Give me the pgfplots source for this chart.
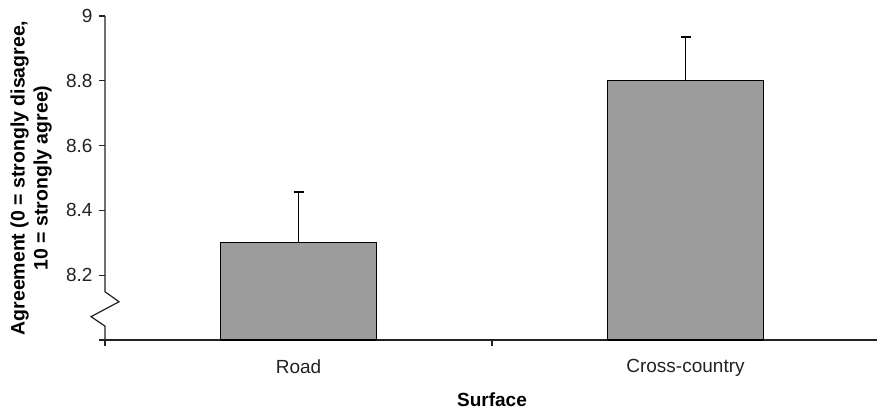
\documentclass[border=0pt]{standalone}
\usepackage{pgfplots}
\pgfplotsset{compat=1.18}
\usepackage{fontspec}
\setmainfont{Liberation Sans}
\definecolor{barfill}{HTML}{9C9C9C}
\definecolor{axcol}{HTML}{222222}
\begin{document}
\begin{tikzpicture}
\useasboundingbox (0,0) rectangle (877pt,410pt);
\begin{axis}[
  at={(105pt,70pt)}, anchor=south west,
  scale only axis, width=774pt, height=324pt,
  xmin=-0.5, xmax=1.5, ymin=8, ymax=9,
  axis lines=left,
  x axis line style={-, axcol, line width=1.2pt},
  y axis line style={draw=none},
  tick style={axcol, line width=1.2pt},
  tick align=outside, major tick length=6pt,
  xtick={-0.5,0.5,1.5}, xticklabels={},
  extra x ticks={0,1}, extra x tick labels={Road,Cross-country},
  extra x tick style={major tick length=0pt, xticklabel style={yshift=-16pt}},
  ytick={8,8.2,8.4,8.6,8.8,9},
  yticklabels={,8.2,8.4,8.6,8.8,9},
  yticklabel style={xshift=-3pt},
  /pgf/number format/assume math mode=true,
  tick label style={font=\fontsize{19}{21}\selectfont, text=axcol},
  xlabel={Surface},
  ylabel={Agreement (0 = strongly disagree,\\10 = strongly agree)},
  every axis x label/.style={at={(axis description cs:0.5,-0.185)}, anchor=center, font=\fontsize{19}{21}\selectfont\bfseries},
  every axis y label/.style={at={(axis description cs:-0.0955,0.5)}, rotate=90, anchor=center, align=center, font=\fontsize{19.5}{23}\selectfont\bfseries},
  clip=false,
]
\addplot[ybar, bar width=156pt, bar shift=0pt, fill=barfill, draw=black, line width=1.2pt,
  error bars/.cd, y dir=plus, y explicit,
  error bar style={line width=1.2pt, black},
  error mark options={rotate=90, line width=1.2pt, mark size=5pt, black}]
  coordinates {(0,8.30) +- (0,0.157) (1,8.80) +- (0,0.135)};
\draw[axcol, line width=1.2pt] (axis cs:-0.5,9) -- (axis cs:-0.5,8.149) -- ([xshift=14pt]axis cs:-0.5,8.118) -- ([xshift=-14pt]axis cs:-0.5,8.072) -- (axis cs:-0.5,8.043) -- (axis cs:-0.5,8);
\end{axis}
\end{tikzpicture}
\end{document}
